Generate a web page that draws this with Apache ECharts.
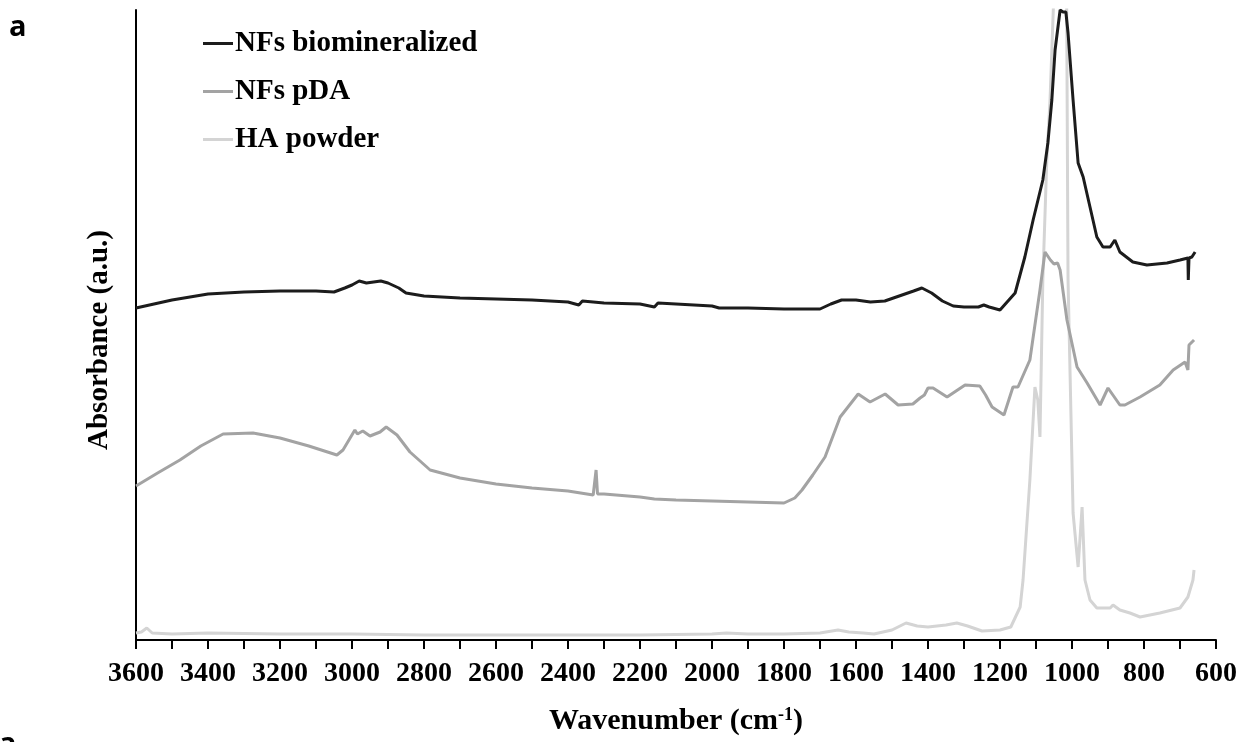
<!DOCTYPE html>
<html>
<head>
<meta charset="utf-8">
<title>FTIR spectra</title>
<script src="https://cdn.jsdelivr.net/npm/echarts@6/dist/echarts.min.js"></script>
<style>
  html, body { margin: 0; padding: 0; background: #fff; }
  #chart { width: 1243px; height: 742px; }
</style>
</head>
<body>
<div id="chart"></div>
<script>
// x axis ticks (cm-1)
const xTicks = [3600, 3400, 3200, 3000, 2800, 2600, 2400, 2200, 2000, 1800, 1600, 1400, 1200, 1000, 800, 600]
const seriesNames = ['NFs biomineralized', 'NFs pDA', 'HA powder']

// NFs biomineralized (arbitrary absorbance, 0 = x axis)
const bioWn = [3600, 3500, 3400, 3300, 3200, 3100, 3050, 3020, 3000, 2980, 2960, 2940, 2920, 2900, 2870, 2850, 2800, 2700, 2600, 2500, 2400, 2370, 2360, 2300, 2200, 2160, 2150, 2000, 1980, 1900, 1800, 1700, 1670, 1640, 1600, 1560, 1520, 1480, 1440, 1417, 1390, 1360, 1330, 1300, 1260, 1245, 1230, 1200, 1158, 1131, 1108, 1081, 1067, 1056, 1047, 1033, 1025, 1017, 1011, 997, 983, 969, 950, 931, 914, 894, 881, 867, 831, 792, 736, 700, 678, 677, 675, 667, 658]
const bioVal = [332, 340, 346, 348, 349, 349, 348, 352, 355, 359, 357, 358, 359, 357, 352, 347, 344, 342, 341, 340, 338, 335, 339, 337, 336, 333, 337, 334, 332, 332, 331, 331, 336, 340, 340, 338, 339, 344, 349, 352, 347, 339, 334, 333, 333, 335, 333, 330, 347, 383, 420, 460, 497, 540, 590, 630, 628, 628, 607, 540, 477, 463, 433, 403, 393, 393, 400, 388, 378, 375, 377, 380, 382, 360, 382, 383, 388]

// NFs pDA
const pdaWn = [3600, 3540, 3478, 3420, 3358, 3275, 3200, 3120, 3042, 3025, 2992, 2985, 2970, 2950, 2922, 2905, 2900, 2875, 2839, 2783, 2700, 2600, 2500, 2400, 2330, 2322, 2318, 2300, 2200, 2160, 2100, 2000, 1900, 1800, 1770, 1750, 1720, 1686, 1644, 1594, 1561, 1519, 1483, 1442, 1422, 1410, 1400, 1386, 1347, 1297, 1256, 1240, 1222, 1189, 1164, 1150, 1117, 1089, 1075, 1060, 1050, 1040, 1033, 1014, 986, 958, 922, 900, 867, 853, 811, 756, 719, 686, 678, 675, 661]
const pdaVal = [154, 167, 180, 194, 206, 207, 202, 194, 185, 190, 210, 206, 209, 204, 208, 213, 211, 205, 188, 170, 162, 156, 152, 149, 145, 170, 146, 146, 143, 141, 140, 139, 138, 137, 142, 150, 165, 183, 223, 246, 238, 246, 235, 236, 242, 245, 252, 252, 243, 255, 254, 245, 233, 225, 253, 253, 280, 350, 388, 380, 376, 377, 370, 320, 273, 257, 235, 252, 235, 235, 243, 255, 270, 278, 270, 295, 300]

// HA powder (main peak runs off the top of the frame)
const haWn = [3600, 3585, 3570, 3555, 3500, 3400, 3200, 3000, 2800, 2600, 2400, 2200, 2000, 1960, 1900, 1800, 1700, 1650, 1620, 1580, 1550, 1500, 1461, 1430, 1400, 1350, 1320, 1290, 1250, 1200, 1170, 1144, 1136, 1117, 1103, 1095, 1089, 1081, 1070, 1061, 1050, 1030, 1015, 1011, 997, 983, 972, 964, 950, 931, 894, 886, 867, 839, 811, 756, 700, 678, 664, 661]
const haVal = [7, 8, 12, 7, 6, 7, 6, 6, 5, 5, 5, 5, 6, 7, 6, 6, 7, 10, 8, 7, 6, 10, 17, 14, 13, 15, 17, 14, 9, 10, 13, 33, 60, 160, 253, 240, 203, 360, 480, 540, 650, 700, 650, 360, 127, 73, 133, 60, 40, 32, 32, 35, 30, 27, 23, 27, 32, 43, 60, 70]

const colors = ['#1c1c1c', '#a3a3a3', '#d4d4d4']

function pairs(xs, ys) {
  return xs.map((x, i) => [x, ys[i]])
}

const chart = echarts.init(document.getElementById('chart'))
const serif = 'Liberation Serif, Times New Roman, serif'

const option = {
  backgroundColor: '#fff',
  animation: false,
  color: colors,
  grid: { left: 136, right: 27, top: 10, bottom: 102, outerBoundsMode: 'none' },
  legend: {
    data: seriesNames,
    orient: 'vertical',
    left: 198,
    top: 24,
    icon: 'rect',
    itemWidth: 30,
    itemHeight: 3,
    itemGap: 19,
    textStyle: { fontFamily: serif, fontWeight: 'bold', fontSize: 29, color: '#000', padding: [0, 0, 0, -3] }
  },
  graphic: [
    { type: 'text', left: 9, top: 13, style: { text: 'a', font: 'bold 29px "Open Sans", sans-serif', fill: '#000' } },
    { type: 'text', left: -1, top: 730, style: { text: 'a', font: 'bold 29px "Open Sans", sans-serif', fill: '#000' } }
  ],
  xAxis: {
    type: 'value',
    inverse: true,
    min: 600,
    max: 3600,
    interval: 200,
    name: 'Wavenumber (cm{sup|-1})',
    nameLocation: 'middle',
    nameGap: 66,
    nameTextStyle: {
      fontFamily: serif, fontWeight: 'bold', fontSize: 30, color: '#000',
      rich: { sup: { fontFamily: serif, fontWeight: 'bold', fontSize: 18, color: '#000', verticalAlign: 'top', padding: [0, 0, 12, 0] } }
    },
    axisLine: { onZero: false, lineStyle: { color: '#000', width: 2 } },
    axisTick: { show: true, inside: false, length: 9, lineStyle: { color: '#000', width: 2 } },
    minorTick: { show: true, splitNumber: 2, length: 9, lineStyle: { color: '#000', width: 2 } },
    splitLine: { show: false },
    minorSplitLine: { show: false },
    axisLabel: {
      margin: 20,
      fontFamily: serif, fontWeight: 'bold', fontSize: 28, color: '#000',
      formatter: v => (xTicks.indexOf(v) >= 0 ? String(v) : '')
    }
  },
  yAxis: {
    type: 'value',
    min: 0,
    max: 630,
    name: 'Absorbance (a.u.)',
    nameLocation: 'middle',
    nameGap: 22,
    nameTextStyle: { fontFamily: serif, fontWeight: 'bold', fontSize: 29, color: '#000', padding: [0, 30, 0, 0] },
    axisLine: { show: true, onZero: false, lineStyle: { color: '#000', width: 2 } },
    axisTick: { show: false },
    axisLabel: { show: false },
    splitLine: { show: false }
  },
  series: [
    { name: seriesNames[0], type: 'line', data: pairs(bioWn, bioVal), showSymbol: false, z: 4, lineStyle: { width: 3, color: colors[0] } },
    { name: seriesNames[1], type: 'line', data: pairs(pdaWn, pdaVal), showSymbol: false, z: 3, lineStyle: { width: 3, color: colors[1] } },
    { name: seriesNames[2], type: 'line', data: pairs(haWn, haVal), showSymbol: false, z: 2, lineStyle: { width: 3, color: colors[2] } }
  ]
}
chart.setOption(option)
</script>
</body>
</html>
